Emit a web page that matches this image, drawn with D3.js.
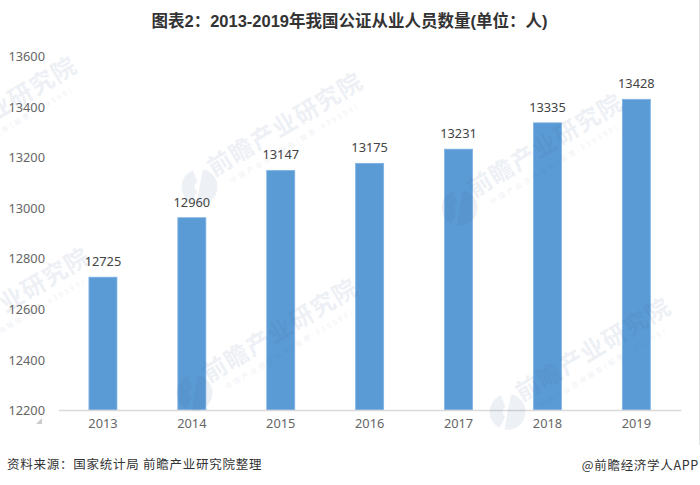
<!DOCTYPE html>
<html lang="zh">
<head>
    <meta charset="UTF-8">
    <title>图表2</title>
    <script src="https://cdn.jsdelivr.net/npm/d3@7"></script>
    <style>
        html, body { margin: 0; padding: 0; background: #fff; }
        svg { display: block; }
        text { font-family: "Noto Sans", "Noto Sans CJK SC", sans-serif; }
    </style>
</head>
<body>
</body>
<script>
    var years = ['2013', '2014', '2015', '2016', '2017', '2018', '2019'];
    var counts = [12725, 12960, 13147, 13175, 13231, 13335, 13428];
    var yTicks = [12200, 12400, 12600, 12800, 13000, 13200, 13400, 13600];

    var titleText = '图表2：2013-2019年我国公证从业人员数量(单位：人)';
    var sourceText = '资料来源：国家统计局 前瞻产业研究院整理';
    var brandText = '@前瞻经济学人APP';
    var markText = '前瞻产业研究院';
    var markSubText = '中国产业咨询报告(股票:839599)';

    var width = 700, height = 485;

    var svg = d3.select('body')
        .append('svg')
        .attr('width', width)
        .attr('height', height);

    var x = d3.scaleBand().domain(years).range([58.5, 680.8]).paddingInner(0.685).paddingOuter(0.3425);
    var y = d3.scaleLinear().domain([12200, 13600]).range([410, 55.8]);

    // 标题
    svg.append('text')
        .attr('x', 349.5).attr('y', 27)
        .attr('text-anchor', 'middle')
        .attr('font-size', 16.5)
        .attr('font-weight', 700)
        .attr('fill', '#333')
        .style('font-family', '"Liberation Sans", "Noto Sans CJK SC"')
        .text(titleText);

    // 柱子
    svg.selectAll('rect.bar')
        .data(counts)
        .enter()
        .append('rect')
        .attr('class', 'bar')
        .attr('x', (d, i) => x(years[i]))
        .attr('y', d => y(d))
        .attr('width', x.bandwidth())
        .attr('height', d => y(12200) - y(d))
        .attr('fill', '#5b9bd5')
        .attr('stroke', '#7fb2e5')
        .attr('stroke-width', 0.8);

    // 数值标签
    svg.selectAll('text.val')
        .data(counts)
        .enter()
        .append('text')
        .attr('class', 'val')
        .attr('x', (d, i) => x(years[i]) + x.bandwidth() / 2)
        .attr('y', d => y(d) - 11)
        .attr('text-anchor', 'middle')
        .attr('font-size', 12.8)
        .attr('fill', '#444')
        .text(d => d);

    // 坐标轴
    var yAxis = d3.axisLeft(y).tickValues(yTicks).tickFormat(d3.format('d')).tickSize(0).tickPadding(0);
    var yG = svg.append('g').attr('transform', 'translate(45,0.6)').call(yAxis);
    yG.select('.domain').remove();
    yG.selectAll('text').attr('font-size', 12.8).attr('fill', '#666').attr('font-family', null);

    var xAxis = d3.axisBottom(x).tickSize(0).tickPadding(9);
    var xG = svg.append('g').attr('transform', 'translate(0,410)').call(xAxis);
    xG.select('.domain').attr('stroke', '#d9d9d9').attr('stroke-width', 1.4);
    xG.selectAll('text').attr('font-size', 12.8).attr('fill', '#666').attr('font-family', null);

    // 水印
    var markAnchors = [[-72, 161], [214, 177], [474, 198], [-59, 352], [209, 383], [522, 402]];
    var marks = svg.selectAll('g.mark')
        .data(markAnchors)
        .enter()
        .append('g')
        .attr('class', 'mark')
        .attr('transform', d => 'translate(' + d[0] + ',' + d[1] + ') rotate(-31)')
        .attr('opacity', 0.085)
        .attr('fill', '#3f5f95');
    marks.append('text')
        .attr('font-size', 24)
        .attr('font-weight', 700)
        .attr('letter-spacing', 1.2)
        .style('font-family', '"Noto Sans CJK SC"')
        .text(markText);
    marks.append('text')
        .attr('y', 15).attr('x', 12)
        .attr('font-size', 7)
        .attr('letter-spacing', 2.6)
        .style('font-family', '"Noto Sans CJK SC"')
        .text(markSubText);
    // 水印 logo：一个被切开的圆
    var logoArc = d3.arc();
    marks.append('path')
        .attr('transform', 'translate(-17.5,1) rotate(31)')
        .attr('d', logoArc({innerRadius: 0, outerRadius: 18, startAngle: 0.2, endAngle: 3.3}));
    marks.append('path')
        .attr('transform', 'translate(-17.5,1) rotate(31)')
        .attr('d', logoArc({innerRadius: 5, outerRadius: 18, startAngle: 3.6, endAngle: 5.9}));

    // 小三角和右侧细线
    svg.append('path').attr('d', d3.line()([[36, 424], [42, 424], [42, 418]])).attr('fill', '#ccc');
    svg.append('line').attr('x1', 699.5).attr('x2', 699.5).attr('y1', 0).attr('y2', 445).attr('stroke', '#e2e2e2');

    // 来源
    svg.append('text')
        .attr('x', 7).attr('y', 469)
        .attr('font-size', 12.5)
        .attr('letter-spacing', 0.75)
        .attr('fill', '#333')
        .style('font-family', '"Noto Sans CJK SC"')
        .text(sourceText);
    svg.append('text')
        .attr('x', 699).attr('y', 470)
        .attr('text-anchor', 'end')
        .attr('font-size', 12.5)
        .attr('letter-spacing', 0.7)
        .attr('fill', '#333')
        .style('font-family', '"Noto Sans CJK SC"')
        .text(brandText);
</script>
</html>
